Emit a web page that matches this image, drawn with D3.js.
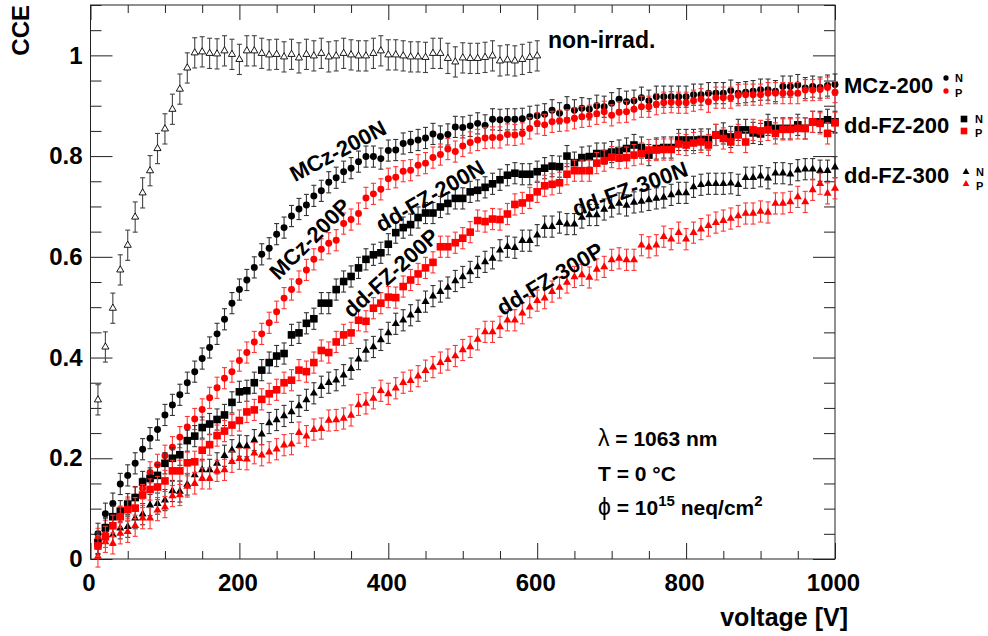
<!DOCTYPE html>
<html>
<head>
<meta charset="utf-8">
<script src="https://cdn.jsdelivr.net/npm/d3@7"></script>
<style>
  html, body { margin: 0; padding: 0; background: #fff; }
  svg { display: block; font-family: "Liberation Sans", Arial, Helvetica, sans-serif; }
</style>
</head>
<body>
<svg id="chart" width="988" height="636"></svg>
<script>
// Bias voltage steps [V]
const voltages = [
  10, 20, 30, 40, 50, 60, 70, 80, 90, 100,
  110, 120, 130, 140, 150, 160, 170, 180, 190, 200,
  210, 220, 230, 240, 250, 260, 270, 280, 290, 300,
  310, 320, 330, 340, 350, 360, 370, 380, 390, 400,
  410, 420, 430, 440, 450, 460, 470, 480, 490, 500,
  510, 520, 530, 540, 550, 560, 570, 580, 590, 600,
  610, 620, 630, 640, 650, 660, 670, 680, 690, 700,
  710, 720, 730, 740, 750, 760, 770, 780, 790, 800,
  810, 820, 830, 840, 850, 860, 870, 880, 890, 900,
  910, 920, 930, 940, 950, 960, 970, 980, 990, 1000
];

// Non-irradiated reference diode (measured 10 .. 600 V)
const nonIrrad = [
  0.316, 0.421, 0.498, 0.574, 0.623, 0.679, 0.727, 0.771, 0.815, 0.854,
  0.893, 0.933, 0.975, 1.005, 1.007, 1.004, 1.003, 1.009, 1.002, 0.992,
  1.009, 1.009, 1.004, 1.001, 1.002, 0.997, 1.002, 0.995, 1.002, 0.999,
  1.004, 0.997, 0.999, 1.004, 1.001, 0.999, 0.999, 1.004, 1.009, 1.001,
  1.001, 0.999, 0.997, 0.997, 0.996, 1.004, 1.004, 0.994, 0.987, 0.995,
  0.994, 0.994, 0.996, 0.999, 0.989, 0.991, 0.989, 0.992, 0.996, 0.999
];

const mcz200N = [
  0.050, 0.090, 0.110, 0.149, 0.166, 0.190, 0.218, 0.240, 0.257, 0.286,
  0.306, 0.326, 0.350, 0.372, 0.398, 0.420, 0.447, 0.476, 0.508, 0.535,
  0.554, 0.579, 0.605, 0.617, 0.645, 0.658, 0.681, 0.695, 0.703, 0.721,
  0.731, 0.748, 0.757, 0.769, 0.776, 0.789, 0.799, 0.799, 0.795, 0.811,
  0.812, 0.825, 0.828, 0.832, 0.836, 0.844, 0.839, 0.843, 0.858, 0.857,
  0.860, 0.865, 0.861, 0.873, 0.872, 0.873, 0.873, 0.874, 0.878, 0.880,
  0.883, 0.891, 0.885, 0.897, 0.891, 0.895, 0.893, 0.900, 0.898, 0.905,
  0.913, 0.908, 0.910, 0.916, 0.910, 0.918, 0.918, 0.918, 0.918, 0.918,
  0.922, 0.922, 0.925, 0.925, 0.925, 0.930, 0.925, 0.927, 0.929, 0.932,
  0.932, 0.929, 0.938, 0.938, 0.941, 0.935, 0.938, 0.936, 0.940, 0.942
];

const mcz200P = [
  0.040, 0.056, 0.066, 0.083, 0.102, 0.123, 0.140, 0.172, 0.187, 0.205,
  0.222, 0.242, 0.262, 0.278, 0.297, 0.320, 0.340, 0.359, 0.372, 0.394,
  0.410, 0.431, 0.447, 0.469, 0.491, 0.518, 0.535, 0.551, 0.574, 0.595,
  0.615, 0.627, 0.633, 0.666, 0.674, 0.686, 0.717, 0.725, 0.734, 0.755,
  0.758, 0.770, 0.772, 0.782, 0.786, 0.797, 0.803, 0.814, 0.809, 0.820,
  0.827, 0.832, 0.836, 0.837, 0.837, 0.843, 0.842, 0.845, 0.855, 0.865,
  0.862, 0.868, 0.870, 0.871, 0.875, 0.878, 0.880, 0.884, 0.888, 0.881,
  0.887, 0.888, 0.893, 0.898, 0.898, 0.903, 0.906, 0.907, 0.906, 0.906,
  0.910, 0.913, 0.908, 0.916, 0.916, 0.916, 0.921, 0.922, 0.922, 0.922,
  0.925, 0.925, 0.925, 0.925, 0.925, 0.931, 0.931, 0.932, 0.936, 0.927
];

const fz200N = [
  0.032, 0.062, 0.084, 0.095, 0.109, 0.122, 0.153, 0.160, 0.166, 0.190,
  0.200, 0.207, 0.235, 0.244, 0.261, 0.268, 0.277, 0.286, 0.311, 0.332,
  0.334, 0.350, 0.375, 0.390, 0.403, 0.408, 0.445, 0.449, 0.468, 0.477,
  0.508, 0.508, 0.535, 0.551, 0.561, 0.578, 0.595, 0.604, 0.608, 0.625,
  0.648, 0.658, 0.664, 0.678, 0.687, 0.687, 0.699, 0.706, 0.716, 0.716,
  0.729, 0.732, 0.738, 0.745, 0.753, 0.762, 0.766, 0.764, 0.764, 0.769,
  0.776, 0.780, 0.779, 0.800, 0.787, 0.797, 0.799, 0.805, 0.805, 0.808,
  0.811, 0.815, 0.822, 0.817, 0.802, 0.815, 0.817, 0.817, 0.832, 0.832,
  0.832, 0.833, 0.833, 0.842, 0.845, 0.838, 0.852, 0.852, 0.846, 0.844,
  0.862, 0.855, 0.855, 0.855, 0.862, 0.855, 0.868, 0.868, 0.872, 0.868
];

const fz200P = [
  0.026, 0.044, 0.066, 0.084, 0.098, 0.101, 0.127, 0.138, 0.143, 0.155,
  0.175, 0.175, 0.191, 0.193, 0.216, 0.227, 0.245, 0.254, 0.266, 0.275,
  0.292, 0.296, 0.317, 0.328, 0.336, 0.350, 0.355, 0.375, 0.372, 0.390,
  0.414, 0.410, 0.431, 0.445, 0.449, 0.474, 0.472, 0.498, 0.508, 0.520,
  0.519, 0.541, 0.554, 0.566, 0.578, 0.589, 0.620, 0.620, 0.628, 0.637,
  0.649, 0.672, 0.670, 0.675, 0.674, 0.685, 0.704, 0.707, 0.717, 0.729,
  0.741, 0.744, 0.747, 0.764, 0.771, 0.771, 0.771, 0.786, 0.791, 0.798,
  0.796, 0.797, 0.802, 0.805, 0.812, 0.812, 0.813, 0.813, 0.824, 0.822,
  0.826, 0.828, 0.822, 0.842, 0.835, 0.828, 0.842, 0.828, 0.852, 0.850,
  0.852, 0.845, 0.853, 0.853, 0.855, 0.855, 0.868, 0.865, 0.845, 0.866
];

const fz300N = [
  0.030, 0.060, 0.048, 0.061, 0.064, 0.081, 0.089, 0.107, 0.110, 0.117,
  0.135, 0.134, 0.148, 0.167, 0.177, 0.177, 0.190, 0.205, 0.216, 0.225,
  0.224, 0.236, 0.248, 0.270, 0.276, 0.284, 0.292, 0.304, 0.316, 0.329,
  0.342, 0.350, 0.355, 0.365, 0.378, 0.397, 0.414, 0.421, 0.435, 0.449,
  0.467, 0.474, 0.484, 0.493, 0.511, 0.522, 0.531, 0.539, 0.552, 0.560,
  0.570, 0.580, 0.590, 0.597, 0.613, 0.620, 0.618, 0.632, 0.632, 0.643,
  0.660, 0.660, 0.668, 0.665, 0.665, 0.678, 0.683, 0.683, 0.694, 0.700,
  0.706, 0.702, 0.708, 0.710, 0.713, 0.716, 0.718, 0.723, 0.727, 0.727,
  0.739, 0.743, 0.745, 0.745, 0.745, 0.746, 0.743, 0.757, 0.757, 0.760,
  0.756, 0.766, 0.766, 0.764, 0.772, 0.774, 0.774, 0.771, 0.771, 0.778
];

const fz300P = [
  0.005, 0.034, 0.031, 0.051, 0.054, 0.066, 0.081, 0.081, 0.097, 0.103,
  0.125, 0.127, 0.144, 0.150, 0.160, 0.160, 0.175, 0.177, 0.193, 0.199,
  0.198, 0.210, 0.206, 0.212, 0.218, 0.226, 0.228, 0.251, 0.244, 0.257,
  0.259, 0.275, 0.276, 0.279, 0.285, 0.306, 0.309, 0.319, 0.334, 0.328,
  0.339, 0.350, 0.354, 0.363, 0.374, 0.381, 0.390, 0.396, 0.403, 0.415,
  0.421, 0.436, 0.451, 0.451, 0.461, 0.474, 0.474, 0.488, 0.500, 0.513,
  0.518, 0.531, 0.539, 0.549, 0.560, 0.564, 0.559, 0.575, 0.580, 0.594,
  0.597, 0.594, 0.594, 0.623, 0.619, 0.623, 0.640, 0.635, 0.648, 0.635,
  0.648, 0.655, 0.662, 0.668, 0.672, 0.676, 0.681, 0.686, 0.686, 0.690,
  0.688, 0.706, 0.706, 0.709, 0.719, 0.709, 0.733, 0.745, 0.726, 0.736
];

// Measurement uncertainty on CCE
const errIrrad = 0.021;
const errNonIrrad = 0.03;

const xMajorTicks = [0, 200, 400, 600, 800, 1000];
const yMajorTicks = [0, 0.2, 0.4, 0.6, 0.8, 1];
const yTickLabels = ["0", "0.2", "0.4", "0.6", "0.8", "1"];

// Curve annotations drawn along the data
const curveLabels = ["MCz-200N", "MCz-200P", "dd-FZ-200N", "dd-FZ-200P", "dd-FZ-300N", "dd-FZ-300P"];
const legendGroups = ["MCz-200", "dd-FZ-200", "dd-FZ-300"];

// ---------------------------------------------------------------
const W = 988, H = 636;
const frame = { left: 90.5, right: 835, top: 5, bottom: 559 };
const RED = "#ff0000", BLACK = "#000000";
const FONT = "\"Liberation Sans\", Arial, Helvetica, sans-serif";

const svg = d3.select("#chart");
svg.append("rect").attr("width", W).attr("height", H).attr("fill", "#fff");

const x = d3.scaleLinear().domain([0, 1000]).range([frame.left, frame.right]);
const y = d3.scaleLinear().domain([0, 1.1]).range([frame.bottom, frame.top]);

const xMinor = d3.range(0, 1001, 50).filter(v => v % 200 !== 0);
const yMinor = d3.range(0, 23).map(i => +(i * 0.05).toFixed(2)).filter(v => Math.round(v * 100) % 20 !== 0);

function styleAxis(g) {
  g.select(".domain").remove();
  g.selectAll("line").attr("stroke", "#222").attr("stroke-width", 1);
  g.selectAll("text")
    .attr("font-family", FONT).attr("font-weight", "bold")
    .attr("fill", "#000");
}

// bottom axis (ticks pointing in)
svg.append("g").attr("transform", `translate(0,${frame.bottom})`)
  .call(d3.axisBottom(x).tickValues(xMinor).tickSize(-8).tickFormat(""))
  .call(styleAxis);
svg.append("g").attr("transform", `translate(0,${frame.bottom})`)
  .call(d3.axisBottom(x).tickValues(xMajorTicks).tickSize(-16).tickPadding(15).tickFormat(d3.format("d")))
  .call(styleAxis)
  .call(g => g.selectAll("text").attr("font-size", 24).attr("dx", -2));

// top axis
svg.append("g").attr("transform", `translate(0,${frame.top})`)
  .call(d3.axisTop(x).tickValues(xMinor).tickSize(-8).tickFormat(""))
  .call(styleAxis);
svg.append("g").attr("transform", `translate(0,${frame.top})`)
  .call(d3.axisTop(x).tickValues(xMajorTicks).tickSize(-15).tickFormat(""))
  .call(styleAxis);

// left axis
svg.append("g").attr("transform", `translate(${frame.left},0)`)
  .call(d3.axisLeft(y).tickValues(yMinor).tickSize(-11).tickFormat(""))
  .call(styleAxis);
svg.append("g").attr("transform", `translate(${frame.left},0)`)
  .call(d3.axisLeft(y).tickValues(yMajorTicks).tickSize(-22).tickPadding(8)
    .tickFormat((d, i) => yTickLabels[i]))
  .call(styleAxis)
  .call(g => g.selectAll("text").attr("font-size", 24));

// right axis
svg.append("g").attr("transform", `translate(${frame.right},0)`)
  .call(d3.axisRight(y).tickValues(yMinor).tickSize(-11).tickFormat(""))
  .call(styleAxis);
svg.append("g").attr("transform", `translate(${frame.right},0)`)
  .call(d3.axisRight(y).tickValues(yMajorTicks).tickSize(-22).tickFormat(""))
  .call(styleAxis);

// frame
svg.append("rect")
  .attr("x", frame.left).attr("y", frame.top)
  .attr("width", frame.right - frame.left).attr("height", frame.bottom - frame.top)
  .attr("fill", "none").attr("stroke", "#222").attr("stroke-width", 1);

// axis titles
svg.append("text")
  .attr("transform", `translate(29,${frame.top}) rotate(-90)`)
  .attr("text-anchor", "end")
  .attr("font-family", FONT).attr("font-weight", "bold").attr("font-size", 24)
  .text("CCE");
svg.append("text")
  .attr("x", 848).attr("y", 626)
  .attr("text-anchor", "end")
  .attr("font-family", FONT).attr("font-weight", "bold").attr("font-size", 25)
  .text("voltage [V]");

// ---------------------------------------------------------------
// data series
const plot = svg.append("g");

const symCircle = d3.symbol().type(d3.symbolCircle).size(38)();
const symSquare = d3.symbol().type(d3.symbolSquare).size(58)();
const symTriangle = d3.symbol().type(d3.symbolTriangle).size(28)();
const symOpenTri = d3.symbol().type(d3.symbolTriangle).size(22)();

const series = [
  { name: "non-irrad", values: nonIrrad, err: errNonIrrad, color: "#000", barColor: "#444", shape: symOpenTri, open: true },
  { name: "MCz-200N", values: mcz200N, err: errIrrad, color: BLACK, barColor: "#333", shape: symCircle },
  { name: "MCz-200P", values: mcz200P, err: errIrrad, color: RED, barColor: "#ff3535", shape: symCircle },
  { name: "dd-FZ-300N", values: fz300N, err: errIrrad, color: BLACK, barColor: "#333", shape: symTriangle },
  { name: "dd-FZ-300P", values: fz300P, err: errIrrad, color: RED, barColor: "#ff3535", shape: symTriangle },
  { name: "dd-FZ-200N", values: fz200N, err: errIrrad, color: BLACK, barColor: "#333", shape: symSquare },
  { name: "dd-FZ-200P", values: fz200P, err: errIrrad, color: RED, barColor: "#ff3535", shape: symSquare }
];

series.forEach(s => {
  const pts = s.values.map((c, i) => ({ v: voltages[i], c }));
  const g = plot.append("g").attr("class", "series");
  const bars = g.append("g")
    .attr("stroke", s.barColor).attr("stroke-width", 1.1).attr("fill", "none");
  pts.forEach(p => {
    const px = x(p.v), lo = y(p.c - s.err), hi = y(p.c + s.err);
    bars.append("line").attr("x1", px).attr("x2", px).attr("y1", lo).attr("y2", hi);
    bars.append("line").attr("x1", px - 2.5).attr("x2", px + 2.5).attr("y1", lo).attr("y2", lo);
    bars.append("line").attr("x1", px - 2.5).attr("x2", px + 2.5).attr("y1", hi).attr("y2", hi);
  });
  g.append("g").selectAll("path").data(pts).join("path")
    .attr("d", s.shape)
    .attr("transform", p => `translate(${x(p.v)},${y(p.c)})`)
    .attr("fill", s.open ? "#fff" : s.color)
    .attr("stroke", s.open ? "#000" : "none")
    .attr("stroke-width", s.open ? 0.9 : 0);
});

// ---------------------------------------------------------------
// in-plot annotations
const labelPlacement = [
  { cx: 338, cy: 151, angle: -28 },
  { cx: 310, cy: 239, angle: -45 },
  { cx: 430, cy: 196, angle: -30 },
  { cx: 391, cy: 273, angle: -42 },
  { cx: 630, cy: 189, angle: -20 },
  { cx: 550, cy: 279, angle: -31 }
];
curveLabels.forEach((t, i) => {
  const p = labelPlacement[i];
  svg.append("text")
    .attr("transform", `translate(${p.cx},${p.cy}) rotate(${p.angle})`)
    .attr("text-anchor", "middle").attr("dominant-baseline", "central")
    .attr("font-family", FONT).attr("font-weight", "bold").attr("font-size", 22)
    .attr("fill", "#000")
    .text(t);
});

svg.append("text")
  .attr("x", 548).attr("y", 48)
  .attr("font-family", FONT).attr("font-weight", "bold").attr("font-size", 23)
  .text("non-irrad.");

// conditions box
const info = svg.append("g")
  .attr("font-family", FONT).attr("font-weight", "bold").attr("font-size", 21);
info.append("text").attr("x", 598).attr("y", 446)
  .call(t => { t.append("tspan").attr("font-weight", "normal").attr("font-size", 23).text("λ"); t.append("tspan").text(" = 1063 nm"); });
info.append("text").attr("x", 598).attr("y", 481).text("T = 0 °C");
info.append("text").attr("x", 598).attr("y", 515)
  .call(t => {
    t.append("tspan").attr("font-weight", "normal").attr("font-size", 23).text("ϕ");
    t.append("tspan").text(" = 10");
    t.append("tspan").attr("font-size", 15).attr("dy", -9).text("15");
    t.append("tspan").attr("dy", 9).text(" neq/cm");
    t.append("tspan").attr("font-size", 15).attr("dy", -9).text("2");
  });

// legend on the right
const legendShapes = [
  { sym: d3.symbol().type(d3.symbolCircle).size(22)(), ty: 93, sx: 946, nY: 78, pY: 91, tx: 955 },
  { sym: d3.symbol().type(d3.symbolSquare).size(44)(), ty: 133, sx: 964, nY: 119, pY: 131, tx: 975 },
  { sym: d3.symbol().type(d3.symbolTriangle).size(20)(), ty: 183, sx: 966, nY: 172, pY: 184, tx: 976 }
];
legendGroups.forEach((name, i) => {
  const L = legendShapes[i];
  svg.append("text").attr("x", 844).attr("y", L.ty)
    .attr("font-family", FONT).attr("font-weight", "bold").attr("font-size", 22)
    .text(name);
  svg.append("path").attr("d", L.sym).attr("transform", `translate(${L.sx},${L.nY})`).attr("fill", BLACK);
  svg.append("path").attr("d", L.sym).attr("transform", `translate(${L.sx},${L.pY})`).attr("fill", RED);
  svg.append("text").attr("x", L.tx).attr("y", L.nY + 4)
    .attr("font-family", FONT).attr("font-weight", "bold").attr("font-size", 11).text("N");
  svg.append("text").attr("x", L.tx).attr("y", L.pY + 6)
    .attr("font-family", FONT).attr("font-weight", "bold").attr("font-size", 11).text("P");
});
</script>
</body>
</html>
